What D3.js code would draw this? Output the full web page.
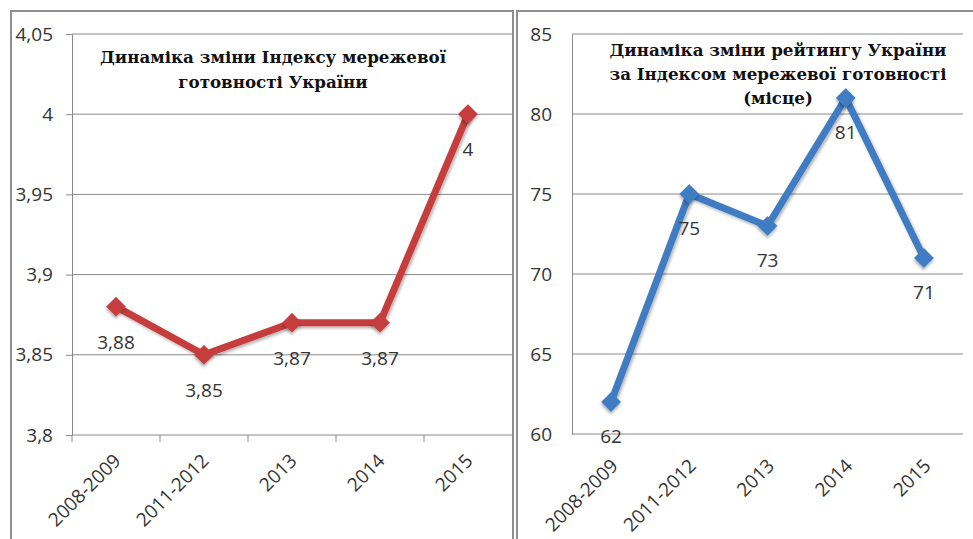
<!DOCTYPE html>
<html>
<head>
<meta charset="utf-8">
<script src="https://cdn.jsdelivr.net/npm/d3@7"></script>
<style>
  body { margin: 0; background: #fff; }
  svg { display: block; }
  .num { font-family: "Open Sans", sans-serif; font-size: 19px; fill: #333; }
  .ttl { font-family: "DejaVu Serif", serif; font-weight: 700; font-size: 16.7px; fill: #111; }
</style>
</head>
<body>
<script>
// Categories and series.
var categories = ["2008-2009", "2011-2012", "2013", "2014", "2015"];
var indexValues = [3.88, 3.85, 3.87, 3.87, 4];
var rankValues = [62, 75, 73, 81, 71];
var indexTicks = [3.8, 3.85, 3.9, 3.95, 4, 4.05];
var rankTicks = [60, 65, 70, 75, 80, 85];
var indexTitle = ["Динаміка зміни Індексу мережевої", "готовності України"];
var rankTitle = ["Динаміка зміни рейтингу України", "за Індексом мережевої готовності", "(місце)"];

var W = 973, H = 539;
var svg = d3.select("body").append("svg")
            .attr("width", W)
            .attr("height", H);

var defs = svg.append("defs");
var shadow = defs.append("filter").attr("id", "shadow")
                 .attr("x", "-50%").attr("y", "-50%")
                 .attr("width", "200%").attr("height", "200%");
shadow.append("feDropShadow")
      .attr("dx", 1.5).attr("dy", 2)
      .attr("stdDeviation", 1.5)
      .attr("flood-color", "#000")
      .attr("flood-opacity", 0.3);

var fmt = function(v) { return String(v).replace(".", ","); };

function drawPanel(opt) {
    // Panel frame
    svg.append("rect")
       .attr("x", opt.frame[0]).attr("y", opt.frame[1])
       .attr("width", opt.frame[2]).attr("height", opt.frame[3])
       .attr("fill", "none")
       .attr("stroke", "#8f8f8f")
       .attr("stroke-width", 2);

    var g = svg.append("g")
               .attr("transform", "translate(" + opt.left + "," + opt.top + ")");
    var w = opt.right - opt.left, h = opt.bottom - opt.top;

    var x = d3.scaleBand().domain(categories).range([0, w]);
    var y = d3.scaleLinear().domain(opt.domain).range([h, 0]);

    // Grid lines
    g.append("g").selectAll("line")
     .data(opt.ticks)
     .enter().append("line")
     .attr("x1", 0).attr("x2", w)
     .attr("y1", function(d) { return y(d); })
     .attr("y2", function(d) { return y(d); })
     .attr("stroke", "#8a8a8a")
     .attr("stroke-width", 1);

    // Y axis
    var yAxis = g.append("g")
                 .call(d3.axisLeft(y).tickValues(opt.ticks)
                         .tickSize(opt.yTick).tickPadding(opt.yPad)
                         .tickFormat(fmt));
    yAxis.attr("font-family", null).attr("font-size", null);
    yAxis.select(".domain").attr("stroke", "#8a8a8a");
    yAxis.selectAll(".tick line").attr("stroke", "#8a8a8a");
    yAxis.selectAll("text").attr("class", "num").attr("fill", null);

    // X axis
    var xAxis = g.append("g")
                 .attr("transform", "translate(0," + h + ")")
                 .call(d3.axisBottom(x).tickSize(0).tickPadding(0));
    xAxis.attr("font-family", null).attr("font-size", null);
    xAxis.select(".domain").remove();
    if (opt.xTicks) {
        g.append("g").selectAll("line")
         .data(categories.slice(1))
         .enter().append("line")
         .attr("x1", function(d) { return x(d); })
         .attr("x2", function(d) { return x(d); })
         .attr("y1", h).attr("y2", h + 7)
         .attr("stroke", "#8a8a8a");
        g.append("line").attr("x1", 0).attr("x2", 0)
         .attr("y1", h).attr("y2", h + 7).attr("stroke", "#8a8a8a");
    }
    xAxis.selectAll("text")
         .attr("class", "num").attr("fill", null)
         .attr("text-anchor", "end")
         .attr("dy", "0")
         .attr("y", 0)
         .attr("transform", "translate(" + opt.xLab[0] + "," + opt.xLab[1] + ") rotate(-45)");

    // Line
    var line = d3.line()
                 .x(function(d, i) { return x(categories[i]) + x.bandwidth() / 2; })
                 .y(function(d) { return y(d); });
    g.append("path")
     .datum(opt.values)
     .attr("d", line)
     .attr("fill", "none")
     .attr("stroke", opt.color)
     .attr("stroke-width", 7)
     .attr("stroke-linejoin", "round")
     .attr("filter", "url(#shadow)");

    // Markers
    g.selectAll(".marker")
     .data(opt.values)
     .enter().append("rect")
     .attr("class", "marker")
     .attr("width", 14).attr("height", 14)
     .attr("x", -7).attr("y", -7)
     .attr("fill", opt.color)
     .attr("filter", "url(#shadow)")
     .attr("transform", function(d, i) {
         return "translate(" + (x(categories[i]) + x.bandwidth() / 2) + "," + y(d) + ") rotate(45)";
     });

    // Data labels
    g.selectAll(".lab")
     .data(opt.values)
     .enter().append("text")
     .attr("class", "num")
     .attr("x", function(d, i) { return x(categories[i]) + x.bandwidth() / 2; })
     .attr("y", function(d) { return y(d) + opt.labOff; })
     .attr("text-anchor", "middle")
     .text(fmt);

    // Title
    svg.append("g").selectAll("text")
       .data(opt.title)
       .enter().append("text")
       .attr("class", "ttl")
       .attr("x", opt.titlePos[0])
       .attr("y", function(d, i) { return opt.titlePos[1] + i * opt.titleStep; })
       .attr("text-anchor", "middle")
       .text(function(d) { return d; });
}

drawPanel({
    frame: [11, 11, 502, 540],
    left: 72, right: 512, top: 34, bottom: 435,
    domain: [3.8, 4.05], ticks: indexTicks,
    yTick: 6, yPad: 13, xTicks: true, xLab: [6, 27],
    values: indexValues, color: "#c63e3c", labOff: 42,
    title: indexTitle, titlePos: [273, 63], titleStep: 25
});

drawPanel({
    frame: [517, 11, 460, 540],
    left: 572, right: 963, top: 34, bottom: 434,
    domain: [60, 85], ticks: rankTicks,
    yTick: 0, yPad: 20, xTicks: false, xLab: [8, 33],
    values: rankValues, color: "#3f7bc2", labOff: 41,
    title: rankTitle, titlePos: [778, 56], titleStep: 24
});
</script>
</body>
</html>
